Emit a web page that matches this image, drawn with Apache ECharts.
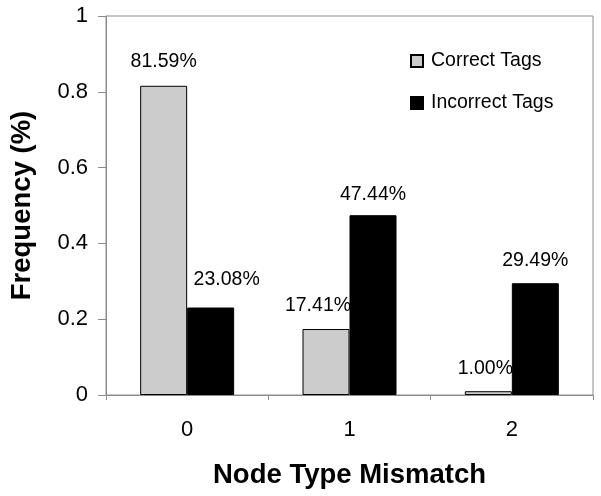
<!DOCTYPE html>
<html>
<head>
<meta charset="utf-8">
<script src="https://cdn.jsdelivr.net/npm/echarts@6/dist/echarts.min.js"></script>
<style>html,body{margin:0;padding:0;background:#fff;}#c{width:601px;height:496px;}</style>
</head>
<body>
<div id="c"></div>
<script>
var categories = ['0', '1', '2'];
var correctTags = [0.8159, 0.1741, 0.0100];
var incorrectTags = [0.2308, 0.4744, 0.2949];
var yTicks = [0, 0.2, 0.4, 0.6, 0.8, 1];
var seriesNames = ['Correct Tags', 'Incorrect Tags'];

// label offsets (style only)
var correctOffsets = [[0, -14], [-8, -13], [-3, -13]];
var incorrectOffsets = [[16, -18], [0, -11], [0, -13]];

var FONT = "'Liberation Sans', Arial, sans-serif";
var chart = echarts.init(document.getElementById('c'), null, {renderer: 'canvas'});

function pct(v) { return (v * 100).toFixed(2) + '%'; }
function build(values, offsets) {
  return values.map(function (v, i) {
    return { value: v, label: { offset: offsets[i] } };
  });
}

var labelStyle = {
  show: true, position: 'top', distance: 0,
  fontFamily: FONT, fontSize: 19.5, color: '#000',
  formatter: function (p) { return pct(p.value); }
};

chart.setOption({
  animation: false,
  textStyle: { fontFamily: FONT },
  grid: { left: 104, right: 8, top: 16, bottom: 101, show: true, borderColor: '#8c8c8c', borderWidth: 1 },
  legend: {
    orient: 'vertical', left: 405, top: 46,
    itemWidth: 12, itemHeight: 12, itemGap: 22,
    icon: 'rect',
    textStyle: { fontFamily: FONT, fontSize: 19.5, color: '#000', padding: [0, 0, 0, 3] },
    data: seriesNames
  },
  xAxis: {
    type: 'category', data: categories,
    name: 'Node Type Mismatch', nameLocation: 'middle', nameGap: 66,
    nameTextStyle: { fontFamily: FONT, fontSize: 27.5, fontWeight: 'bold', color: '#000' },
    axisLine: { lineStyle: { color: '#8c8c8c' } },
    axisTick: { show: true, length: 5, lineStyle: { color: '#8c8c8c' } },
    axisLabel: { fontFamily: FONT, fontSize: 22, color: '#000', margin: 24 }
  },
  yAxis: {
    type: 'value', min: yTicks[0], max: yTicks[yTicks.length - 1], interval: 0.2,
    name: 'Frequency (%)', nameLocation: 'middle', nameGap: 70,
    nameTextStyle: { fontFamily: FONT, fontSize: 27.5, fontWeight: 'bold', color: '#000' },
    axisLine: { show: true, lineStyle: { color: '#8c8c8c' } },
    axisTick: { show: true, length: 8, lineStyle: { color: '#8c8c8c' } },
    splitLine: { show: false },
    axisLabel: { fontFamily: FONT, fontSize: 22, color: '#000', margin: 18 }
  },
  series: [
    {
      name: seriesNames[0], type: 'bar', barWidth: 47, barGap: '0%',
      itemStyle: { color: '#cccccc', borderColor: '#000', borderWidth: 1 },
      label: labelStyle,
      data: build(correctTags, correctOffsets)
    },
    {
      name: seriesNames[1], type: 'bar', barWidth: 47, barGap: '0%',
      itemStyle: { color: '#000', borderColor: '#000', borderWidth: 1 },
      label: labelStyle,
      data: build(incorrectTags, incorrectOffsets)
    }
  ]
});
</script>
</body>
</html>
